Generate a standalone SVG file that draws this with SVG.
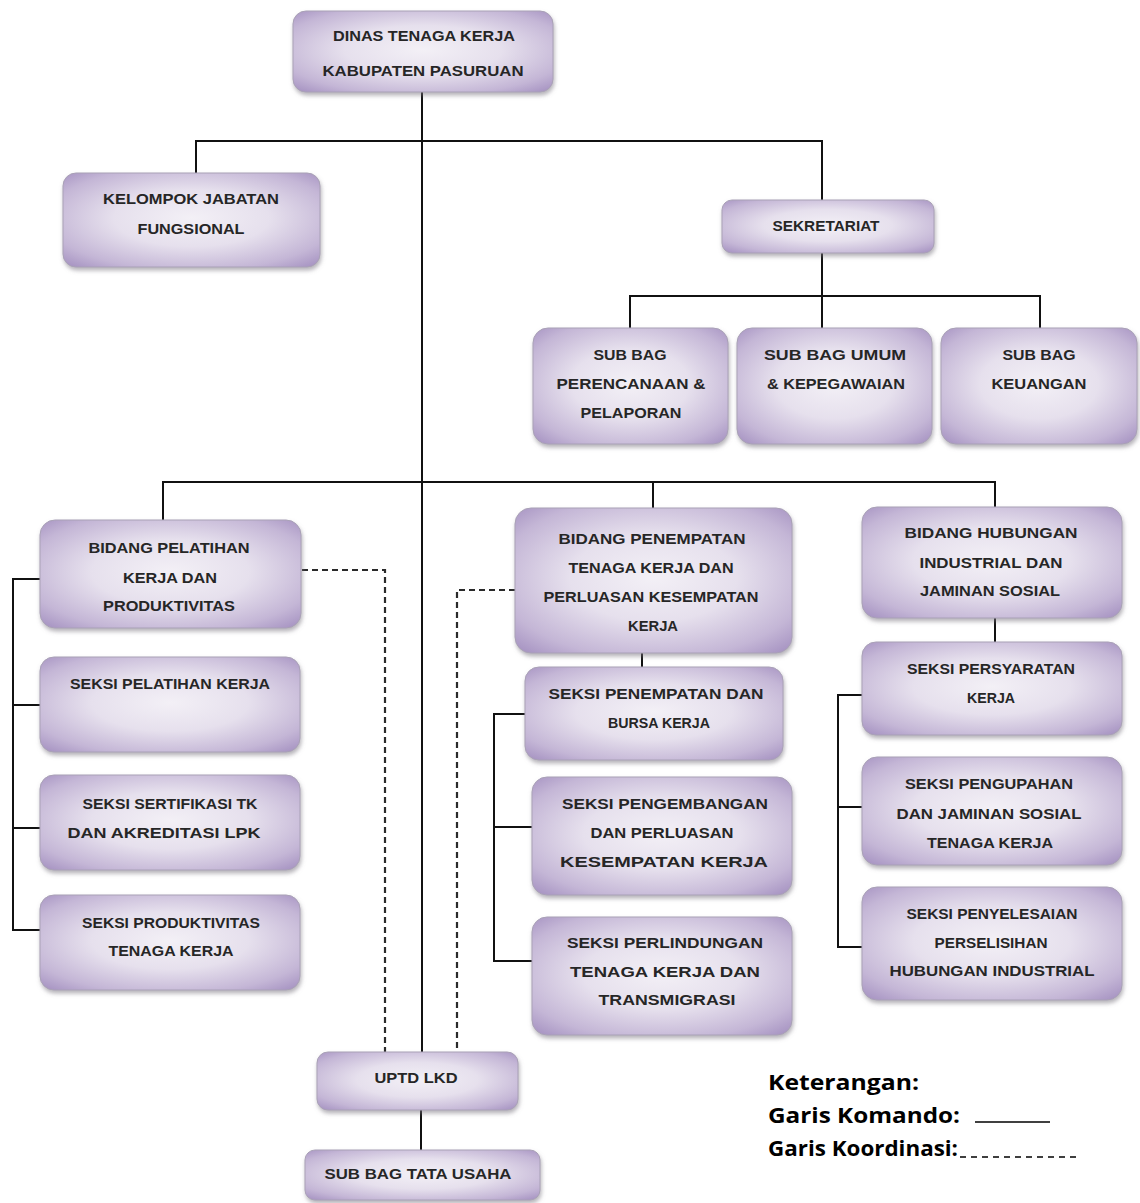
<svg xmlns="http://www.w3.org/2000/svg" width="1140" height="1203" viewBox="0 0 1140 1203">
<defs>
<radialGradient id="bg" cx="50%" cy="48%" r="72%">
<stop offset="0" stop-color="#f3f0f6"/>
<stop offset="0.42" stop-color="#e6e0ed"/>
<stop offset="0.78" stop-color="#c4b6d6"/>
<stop offset="1" stop-color="#a28ebf"/>
</radialGradient>
<filter id="sh" x="-10%" y="-10%" width="120%" height="130%">
<feDropShadow dx="1" dy="3" stdDeviation="2" flood-color="#7a7480" flood-opacity="0.55"/>
</filter>
</defs>
<style>
.box{fill:url(#bg);stroke:#a9a1b6;stroke-width:1;filter:url(#sh)}
.t{font-family:"Liberation Sans",Arial,sans-serif;font-weight:bold;font-size:15.5px;fill:#262626;text-anchor:middle}
.ln{fill:none;stroke:#111;stroke-width:2}
.dl{fill:none;stroke:#2a2a2a;stroke-width:2.2;stroke-dasharray:6 4}
.lg{font-family:"Open Sans","Liberation Sans",Arial,sans-serif;font-weight:bold;font-size:21px;fill:#000}
</style>
<rect width="1140" height="1203" fill="#fff"/>

<g id="connectors">
<path class="ln" d="M422,92 V1052"/>
<path class="ln" d="M196,173 V141 H822 V200"/>
<path class="ln" d="M822,253 V296"/>
<path class="ln" d="M630,328 V296 H1040 V328"/>
<path class="ln" d="M822,296 V328"/>
<path class="ln" d="M163,520 V482 H995 V507"/>
<path class="ln" d="M653,482 V508"/>
<path class="ln" d="M40,579 H13 V930 H40 M13,705 H40 M13,828 H40"/>
<path class="ln" d="M642,653 V667"/>
<path class="ln" d="M525,714 H494 V961 H532 M494,827 H532"/>
<path class="ln" d="M995,618 V642"/>
<path class="ln" d="M862,695 H838 V947 H862 M838,807 H862"/>
<path class="ln" d="M421,1110 V1150"/>
<path class="dl" d="M302,570 H385 V1052"/>
<path class="dl" d="M515,590 H457 V1052"/>
</g>

<g id="n-dinas">
<rect class="box" x="293" y="11" width="260" height="81" rx="13"/>
<text class="t" x="424" y="41" textLength="182" lengthAdjust="spacingAndGlyphs">DINAS TENAGA KERJA</text>
<text class="t" x="423" y="76" textLength="201" lengthAdjust="spacingAndGlyphs">KABUPATEN PASURUAN</text>
</g>

<g id="n-kelompok">
<rect class="box" x="63" y="173" width="257" height="94" rx="13"/>
<text class="t" x="191" y="204" textLength="176" lengthAdjust="spacingAndGlyphs">KELOMPOK JABATAN</text>
<text class="t" x="191" y="234" textLength="107" lengthAdjust="spacingAndGlyphs">FUNGSIONAL</text>
</g>

<g id="n-sekretariat">
<rect class="box" x="722" y="200" width="212" height="53" rx="10"/>
<text class="t" x="826" y="231" textLength="107" lengthAdjust="spacingAndGlyphs">SEKRETARIAT</text>
</g>

<g id="n-subbag-perencanaan">
<rect class="box" x="533" y="328" width="195" height="116" rx="15"/>
<text class="t" x="630" y="360" textLength="73" lengthAdjust="spacingAndGlyphs">SUB BAG</text>
<text class="t" x="631" y="389" textLength="149" lengthAdjust="spacingAndGlyphs">PERENCANAAN  &amp;</text>
<text class="t" x="631" y="418" textLength="101" lengthAdjust="spacingAndGlyphs">PELAPORAN</text>
</g>

<g id="n-subbag-umum">
<rect class="box" x="737" y="328" width="195" height="116" rx="15"/>
<text class="t" x="835" y="360" textLength="142" lengthAdjust="spacingAndGlyphs">SUB BAG  UMUM</text>
<text class="t" x="836" y="389" textLength="138" lengthAdjust="spacingAndGlyphs">&amp; KEPEGAWAIAN</text>
</g>

<g id="n-subbag-keuangan">
<rect class="box" x="941" y="328" width="196" height="116" rx="15"/>
<text class="t" x="1039" y="360" textLength="73" lengthAdjust="spacingAndGlyphs">SUB BAG</text>
<text class="t" x="1039" y="389" textLength="95" lengthAdjust="spacingAndGlyphs">KEUANGAN</text>
</g>

<g id="n-bidang-pelatihan">
<rect class="box" x="40" y="520" width="261" height="108" rx="15"/>
<text class="t" x="169" y="553" textLength="161" lengthAdjust="spacingAndGlyphs">BIDANG PELATIHAN</text>
<text class="t" x="170" y="583" textLength="94" lengthAdjust="spacingAndGlyphs">KERJA DAN</text>
<text class="t" x="169" y="611" textLength="132" lengthAdjust="spacingAndGlyphs">PRODUKTIVITAS</text>
</g>

<g id="n-seksi-pelatihan">
<rect class="box" x="40" y="657" width="260" height="95" rx="14"/>
<text class="t" x="170" y="689" textLength="200" lengthAdjust="spacingAndGlyphs">SEKSI PELATIHAN  KERJA</text>
</g>

<g id="n-seksi-sertifikasi">
<rect class="box" x="40" y="775" width="260" height="95" rx="14"/>
<text class="t" x="170" y="809" textLength="175" lengthAdjust="spacingAndGlyphs">SEKSI SERTIFIKASI  TK</text>
<text class="t" x="164" y="838" textLength="193" lengthAdjust="spacingAndGlyphs">DAN AKREDITASI  LPK</text>
</g>

<g id="n-seksi-produktivitas">
<rect class="box" x="40" y="895" width="260" height="95" rx="14"/>
<text class="t" x="171" y="928" textLength="178" lengthAdjust="spacingAndGlyphs">SEKSI PRODUKTIVITAS</text>
<text class="t" x="171" y="956" textLength="125" lengthAdjust="spacingAndGlyphs">TENAGA  KERJA</text>
</g>

<g id="n-bidang-penempatan">
<rect class="box" x="515" y="508" width="277" height="145" rx="16"/>
<text class="t" x="652" y="544" textLength="187" lengthAdjust="spacingAndGlyphs">BIDANG PENEMPATAN</text>
<text class="t" x="651" y="573" textLength="165" lengthAdjust="spacingAndGlyphs">TENAGA  KERJA DAN</text>
<text class="t" x="651" y="602" textLength="215" lengthAdjust="spacingAndGlyphs">PERLUASAN  KESEMPATAN</text>
<text class="t" x="653" y="631" textLength="50" lengthAdjust="spacingAndGlyphs">KERJA</text>
</g>

<g id="n-seksi-penempatan">
<rect class="box" x="525" y="667" width="258" height="93" rx="14"/>
<text class="t" x="656" y="699" textLength="215" lengthAdjust="spacingAndGlyphs">SEKSI PENEMPATAN   DAN</text>
<text class="t" x="659" y="728" textLength="102" lengthAdjust="spacingAndGlyphs">BURSA KERJA</text>
</g>

<g id="n-seksi-pengembangan">
<rect class="box" x="532" y="777" width="260" height="118" rx="15"/>
<text class="t" x="665" y="809" textLength="206" lengthAdjust="spacingAndGlyphs">SEKSI PENGEMBANGAN</text>
<text class="t" x="662" y="838" textLength="143" lengthAdjust="spacingAndGlyphs">DAN PERLUASAN</text>
<text class="t" x="664" y="867" textLength="208" lengthAdjust="spacingAndGlyphs">KESEMPATAN  KERJA</text>
</g>

<g id="n-seksi-perlindungan">
<rect class="box" x="532" y="917" width="260" height="118" rx="15"/>
<text class="t" x="665" y="948" textLength="196" lengthAdjust="spacingAndGlyphs">SEKSI PERLINDUNGAN</text>
<text class="t" x="665" y="977" textLength="190" lengthAdjust="spacingAndGlyphs">TENAGA  KERJA DAN</text>
<text class="t" x="667" y="1005" textLength="137" lengthAdjust="spacingAndGlyphs">TRANSMIGRASI</text>
</g>

<g id="n-bidang-hubungan">
<rect class="box" x="862" y="507" width="260" height="111" rx="15"/>
<text class="t" x="991" y="538" textLength="173" lengthAdjust="spacingAndGlyphs">BIDANG HUBUNGAN</text>
<text class="t" x="991" y="568" textLength="143" lengthAdjust="spacingAndGlyphs">INDUSTRIAL  DAN</text>
<text class="t" x="990" y="596" textLength="140" lengthAdjust="spacingAndGlyphs">JAMINAN  SOSIAL</text>
</g>

<g id="n-seksi-persyaratan">
<rect class="box" x="862" y="642" width="260" height="93" rx="14"/>
<text class="t" x="991" y="674" textLength="168" lengthAdjust="spacingAndGlyphs">SEKSI PERSYARATAN</text>
<text class="t" x="991" y="703" textLength="48" lengthAdjust="spacingAndGlyphs">KERJA</text>
</g>

<g id="n-seksi-pengupahan">
<rect class="box" x="862" y="757" width="260" height="108" rx="15"/>
<text class="t" x="989" y="789" textLength="168" lengthAdjust="spacingAndGlyphs">SEKSI PENGUPAHAN</text>
<text class="t" x="989" y="819" textLength="185" lengthAdjust="spacingAndGlyphs">DAN JAMINAN  SOSIAL</text>
<text class="t" x="990" y="848" textLength="126" lengthAdjust="spacingAndGlyphs">TENAGA  KERJA</text>
</g>

<g id="n-seksi-penyelesaian">
<rect class="box" x="862" y="887" width="260" height="113" rx="15"/>
<text class="t" x="992" y="919" textLength="171" lengthAdjust="spacingAndGlyphs">SEKSI PENYELESAIAN</text>
<text class="t" x="991" y="948" textLength="113" lengthAdjust="spacingAndGlyphs">PERSELISIHAN</text>
<text class="t" x="992" y="976" textLength="205" lengthAdjust="spacingAndGlyphs">HUBUNGAN INDUSTRIAL</text>
</g>

<g id="n-uptd">
<rect class="box" x="317" y="1052" width="201" height="58" rx="11"/>
<text class="t" x="416" y="1083" textLength="83" lengthAdjust="spacingAndGlyphs">UPTD LKD</text>
</g>

<g id="n-tata-usaha">
<rect class="box" x="305" y="1150" width="235" height="50" rx="10"/>
<text class="t" x="418" y="1179" textLength="187" lengthAdjust="spacingAndGlyphs">SUB BAG  TATA  USAHA</text>
</g>

<g id="legend">
<text class="lg" x="768" y="1090" textLength="151" lengthAdjust="spacingAndGlyphs">Keterangan:</text>
<text class="lg" x="768" y="1123" textLength="192" lengthAdjust="spacingAndGlyphs">Garis Komando:</text>
<line x1="975" y1="1122" x2="1050" y2="1122" stroke="#000" stroke-width="1.6"/>
<text class="lg" x="768" y="1156" textLength="190" lengthAdjust="spacingAndGlyphs">Garis Koordinasi:</text>
<line x1="960" y1="1157" x2="1076" y2="1157" stroke="#000" stroke-width="1.4" stroke-dasharray="6 5"/>
</g>
</svg>
